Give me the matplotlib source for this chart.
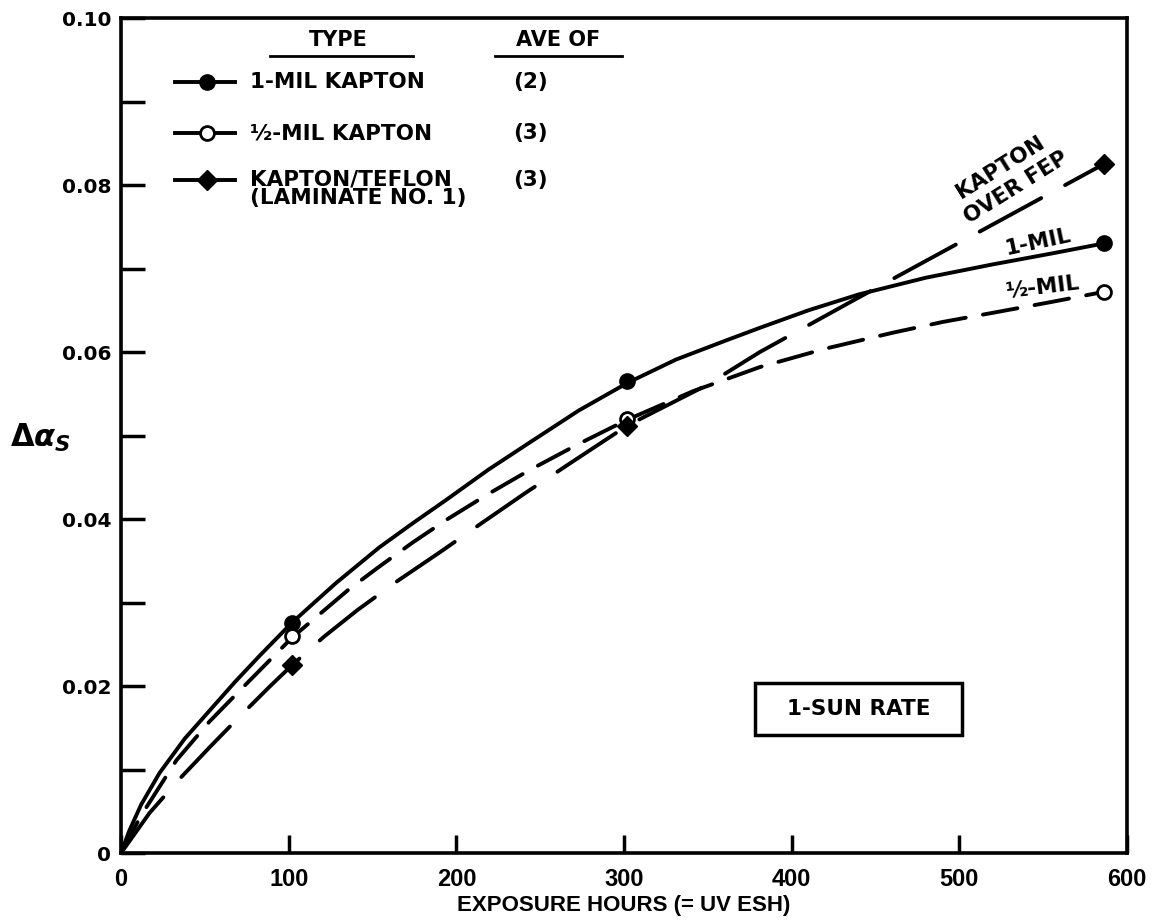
import matplotlib
matplotlib.use("Agg")
import matplotlib.pyplot as plt
from matplotlib.patches import Rectangle
from matplotlib.lines import Line2D

# measured points (exposure hours, delta alpha_s)
test_hours = [102, 302, 586]
one_mil_pts = [0.0276, 0.0565, 0.0731]
half_mil_pts = [0.0260, 0.0520, 0.0672]
teflon_pts = [0.0225, 0.0512, 0.0825]

# faired curves
one_mil_x = [0, 5, 12, 23, 38, 53, 68, 83, 102, 128, 154, 174, 194, 219, 244, 273,
             302, 331, 361, 381, 410, 440, 480, 520, 555, 586]
one_mil_y = [0, 0.0027, 0.0058, 0.0096, 0.0137, 0.0171, 0.0205, 0.0237, 0.0276, 0.0323,
             0.0366, 0.0395, 0.0423, 0.0459, 0.0492, 0.0530, 0.0563, 0.0591, 0.0614,
             0.0629, 0.0650, 0.0669, 0.0689, 0.0705, 0.0718, 0.0730]
half_mil_x = [0, 12, 33, 53, 73, 102, 119, 136, 154, 174, 194, 219, 244, 273, 302,
              341, 381, 420, 460, 490, 520, 555, 586]
half_mil_y = [0, 0.0045, 0.0111, 0.0158, 0.0199, 0.0258, 0.0287, 0.0316, 0.0343, 0.0372,
              0.0399, 0.0430, 0.0459, 0.0490, 0.0519, 0.0553, 0.0582, 0.0604, 0.0623,
              0.0636, 0.0647, 0.0660, 0.0672]
teflon_x = [0, 17, 35, 53, 71, 89, 102, 121, 141, 165, 190, 215, 241, 271, 302,
            349, 381, 436, 500, 586]
teflon_y = [0, 0.0048, 0.0089, 0.0127, 0.0164, 0.0200, 0.0225, 0.0259, 0.0291, 0.0326,
            0.0360, 0.0395, 0.0431, 0.0471, 0.0512, 0.0560, 0.0600, 0.0661, 0.0731, 0.0825]

x_ticks = [0, 100, 200, 300, 400, 500, 600]
y_ticks = [0, 0.02, 0.04, 0.06, 0.08, 0.10]
y_tick_labels = ["0", "0.02", "0.04", "0.06", "0.08", "0.10"]
y_minor = [0.01, 0.03, 0.05, 0.07, 0.09]

legend_types = ["1-MIL KAPTON", "\u00bd-MIL KAPTON", "KAPTON/TEFLON\n(LAMINATE NO. 1)"]
legend_counts = ["(2)", "(3)", "(3)"]

plt.rcParams['font.family'] = ['DejaVu Sans']
plt.rcParams['font.weight'] = 'bold'
plt.rcParams['mathtext.fontset'] = 'dejavusans'

fig = plt.figure(figsize=(11.56, 9.24), dpi=100)
ax = fig.add_axes([0.1047, 0.0768, 0.8703, 0.9037])

lw = 2.8
ax.plot(one_mil_x, one_mil_y, color='black', lw=lw, solid_capstyle='round', solid_joinstyle='round')
ax.plot(half_mil_x, half_mil_y, color='black', lw=lw, dashes=(9, 4.5), dash_capstyle='round')
ax.plot(teflon_x, teflon_y, color='black', lw=lw, dashes=(18, 7), dash_capstyle='round')

ax.plot(test_hours, one_mil_pts, 'o', color='black', ms=11)
ax.plot(test_hours, half_mil_pts, 'o', mfc='white', mec='black', mew=2, ms=10)
ax.plot(test_hours, teflon_pts, 'D', color='black', ms=10)

ax.set_xlim(0, 600)
ax.set_ylim(0, 0.10)
ax.set_xticks(x_ticks)
ax.set_yticks(y_ticks)
ax.set_yticklabels(y_tick_labels)
ax.set_yticks(y_minor, minor=True)
ax.tick_params(axis='y', which='both', direction='in', length=17, width=2.5,
               labelsize=14.5, pad=7)
ax.tick_params(axis='x', direction='in', length=13, width=2.5, pad=11)
for lab in ax.get_xticklabels():
    lab.set_family(['Liberation Sans', 'DejaVu Sans'])
    lab.set_fontsize(17)
for s in ax.spines.values():
    s.set_linewidth(2.6)

ax.text(0.5, -0.063, "EXPOSURE HOURS (= UV ESH)", transform=ax.transAxes,
        ha='center', va='center', fontsize=16, family=['Liberation Sans', 'DejaVu Sans'])
ax.text(-0.08, 0.497, r'$\Delta\alpha_S$', transform=ax.transAxes,
        ha='center', va='center', fontsize=22)

# hand-drawn style legend
ax.text(0.2157, 0.9737, "TYPE", transform=ax.transAxes, ha='center', va='center', fontsize=15)
ax.text(0.4344, 0.9737, "AVE OF", transform=ax.transAxes, ha='center', va='center', fontsize=15)
ax.add_line(Line2D([0.148, 0.290], [0.9545, 0.9545], transform=ax.transAxes, color='black', lw=2))
ax.add_line(Line2D([0.3718, 0.498], [0.9545, 0.9545], transform=ax.transAxes, color='black', lw=2))

rows_y = [0.9234, 0.8623, 0.806]
marker_styles = [dict(marker='o', mfc='black', ms=11),
                 dict(marker='o', mfc='white', mew=2, ms=10),
                 dict(marker='D', mfc='black', ms=10)]
for ry, name, cnt, mk in zip(rows_y, legend_types, legend_counts, marker_styles):
    ax.add_line(Line2D([0.0537, 0.1133], [ry, ry], transform=ax.transAxes, color='black', lw=lw))
    ax.add_line(Line2D([0.0855], [ry], transform=ax.transAxes, color='black', mec='black', **mk))
    if '\n' in name:
        ax.text(0.128, ry + 0.013, name, transform=ax.transAxes, ha='left', va='top',
                fontsize=15.5, linespacing=0.95)
    else:
        ax.text(0.128, ry, name, transform=ax.transAxes, ha='left', va='center', fontsize=15.5)
    ax.text(0.4066, ry, cnt, transform=ax.transAxes, ha='center', va='center', fontsize=15.5)

# curve labels
ax.text(0.8738, 0.8216, "KAPTON", transform=ax.transAxes, ha='center', va='center',
        rotation=32, fontsize=15.5)
ax.text(0.8897, 0.7964, "OVER FEP", transform=ax.transAxes, ha='center', va='center',
        rotation=32, fontsize=15.5)
ax.text(0.9115, 0.7317, "1-MIL", transform=ax.transAxes, ha='center', va='center',
        rotation=12, fontsize=15.5)
ax.text(0.9165, 0.6778, "\u00bd-MIL", transform=ax.transAxes, ha='center', va='center',
        rotation=7, fontsize=15.5)

ax.add_patch(Rectangle((0.630, 0.1413), 0.206, 0.0623, transform=ax.transAxes,
                       fill=False, ec='black', lw=2.5))
ax.text(0.733, 0.1725, "1-SUN RATE", transform=ax.transAxes, ha='center', va='center',
        fontsize=15.5)

fig.savefig("out.png", dpi=100)
